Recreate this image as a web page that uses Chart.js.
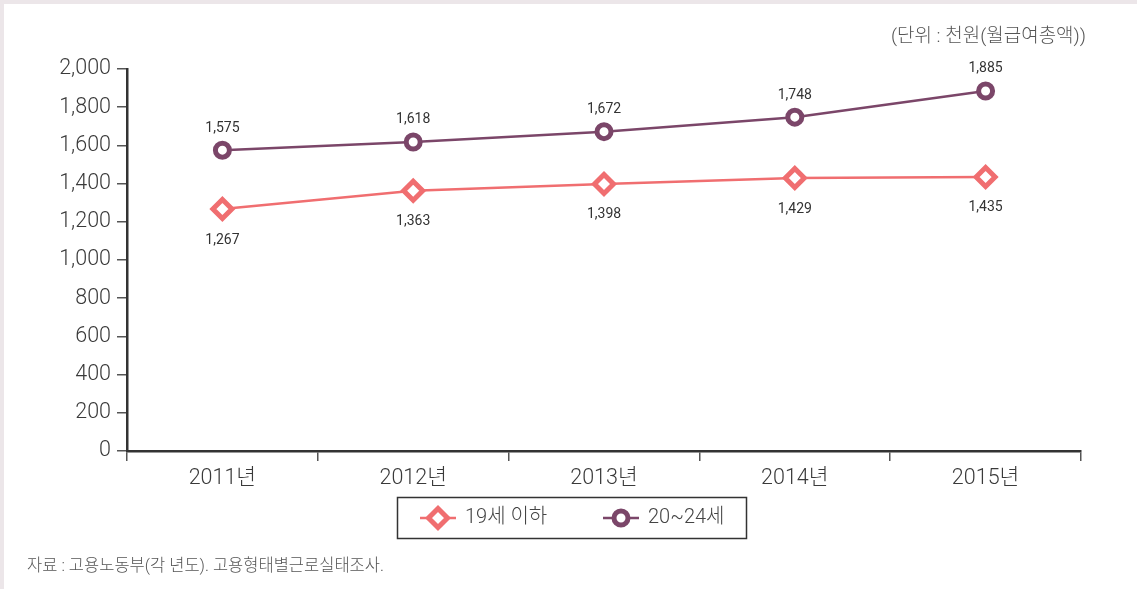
<!DOCTYPE html>
<html>
<head>
<meta charset="utf-8">
<script src="https://cdn.jsdelivr.net/npm/chart.js@4/dist/chart.umd.min.js"></script>
<style>
  html, body { margin: 0; padding: 0; background: #ece6e9; }
  #wrap { position: absolute; left: 4px; top: 4px; width: 1133px; height: 585px; background: #fff; }
  #chart { position: absolute; left: 0; top: 0; }
  .note { position: absolute; font-family: Roboto, "Noto Sans CJK KR", sans-serif; font-weight: 300; color: #555; white-space: nowrap; }
  #unit { right: 51px; top: 16px; font-size: 19px; }
  #src { left: 23px; top: 548px; font-size: 16.5px; }
</style>
</head>
<body>
<div id="wrap">
  <canvas id="chart" width="1133" height="585"></canvas>
  <div class="note" id="unit">(단위 : 천원(월급여총액))</div>
  <div class="note" id="src">자료 : 고용노동부(각 년도). 고용형태별근로실태조사.</div>
</div>
<script>
var years = ['2011년', '2012년', '2013년', '2014년', '2015년'];
var under19 = [1267, 1363, 1398, 1429, 1435];
var age20to24 = [1575, 1618, 1672, 1748, 1885];
var seriesNames = ['19세 이하', '20~24세'];

var pink = '#f06e70';
var purple = '#7b4669';
var fontFamily = 'Roboto, "Noto Sans CJK KR", sans-serif';

// value labels above / below the points
var valueLabels = {
    id: 'valueLabels',
    afterDatasetsDraw: function (chart) {
        var ctx = chart.ctx;
        ctx.save();
        ctx.font = '14px ' + fontFamily;
        ctx.fillStyle = '#333';
        ctx.textAlign = 'center';
        ctx.textBaseline = 'middle';
        chart.data.datasets.forEach(function (ds, i) {
            var meta = chart.getDatasetMeta(i);
            meta.data.forEach(function (pt, j) {
                var v = ds.data[j].toLocaleString('en-US');
                var y = i === 0 ? pt.y + 31 : pt.y - 22;
                ctx.fillText(v, pt.x, y);
            });
        });
        ctx.restore();
    }
};

// boxed legend with line-through markers
var boxLegend = {
    id: 'boxLegend',
    afterDraw: function (chart) {
        var ctx = chart.ctx;
        ctx.save();
        ctx.strokeStyle = '#333';
        ctx.lineWidth = 1.5;
        ctx.strokeRect(393.5, 493.5, 349, 41);
        var items = [{x: 416, text: seriesNames[0]}, {x: 599, text: seriesNames[1]}];
        var cy = 514;
        chart.data.datasets.forEach(function (ds, i) {
            var x0 = items[i].x;
            var cx = x0 + 18;
            ctx.strokeStyle = ds.borderColor;
            ctx.lineWidth = 2.5;
            ctx.beginPath();
            ctx.moveTo(x0, cy);
            ctx.lineTo(x0 + 36, cy);
            ctx.stroke();
            ctx.fillStyle = '#fff';
            ctx.lineWidth = ds.pointBorderWidth;
            ctx.beginPath();
            if (ds.pointStyle === 'circle') {
                ctx.arc(cx, cy, ds.pointRadius, 0, Math.PI * 2);
            } else {
                var r = ds.pointRadius;
                ctx.moveTo(cx, cy - r);
                ctx.lineTo(cx + r, cy);
                ctx.lineTo(cx, cy + r);
                ctx.lineTo(cx - r, cy);
                ctx.closePath();
            }
            ctx.fill();
            ctx.stroke();
            ctx.fillStyle = '#444';
            ctx.font = '300 20px ' + fontFamily;
            ctx.textAlign = 'left';
            ctx.textBaseline = 'middle';
            ctx.fillText(items[i].text, x0 + 45, cy);
        });
        ctx.restore();
    }
};

new Chart(document.getElementById('chart'), {
    type: 'line',
    data: {
        labels: years,
        datasets: [{
            label: seriesNames[0],
            data: under19,
            borderColor: pink,
            backgroundColor: '#fff',
            borderWidth: 2.5,
            pointStyle: 'rectRot',
            pointRadius: 9.5,
            pointHoverRadius: 9.5,
            pointBorderWidth: 5,
            pointBorderColor: pink,
            pointBackgroundColor: '#fff',
            tension: 0
        }, {
            label: seriesNames[1],
            data: age20to24,
            borderColor: purple,
            backgroundColor: '#fff',
            borderWidth: 2.5,
            pointStyle: 'circle',
            pointRadius: 7,
            pointHoverRadius: 7,
            pointBorderWidth: 5,
            pointBorderColor: purple,
            pointBackgroundColor: '#fff',
            tension: 0
        }]
    },
    options: {
        responsive: false,
        animation: false,
        layout: { padding: { left: 0, right: 56, top: 65, bottom: 98 } },
        plugins: {
            legend: { display: false },
            tooltip: { enabled: false }
        },
        scales: {
            x: {
                offset: true,
                afterFit: function (scale) { scale.height = 40; },
                grid: {
                    offset: true,
                    drawOnChartArea: false,
                    drawTicks: true,
                    tickLength: 10,
                    color: '#555',
                    lineWidth: 1.5
                },
                border: { display: true, color: '#333', width: 2.5 },
                ticks: {
                    color: '#3a3a3a',
                    padding: 5,
                    font: { family: fontFamily, size: 21.5, weight: '300' }
                }
            },
            y: {
                min: 0,
                max: 2000,
                afterFit: function (scale) { scale.width = 123; },
                grid: {
                    drawOnChartArea: false,
                    drawTicks: true,
                    tickLength: 10,
                    color: '#555',
                    lineWidth: 1.5
                },
                border: { display: true, color: '#333', width: 2.5 },
                ticks: {
                    stepSize: 200,
                    color: '#3a3a3a',
                    padding: 6,
                    font: { family: fontFamily, size: 21.5, weight: '300' },
                    callback: function (v) { return v.toLocaleString('en-US'); }
                }
            }
        }
    },
    plugins: [valueLabels, boxLegend]
});
</script>
</body>
</html>
